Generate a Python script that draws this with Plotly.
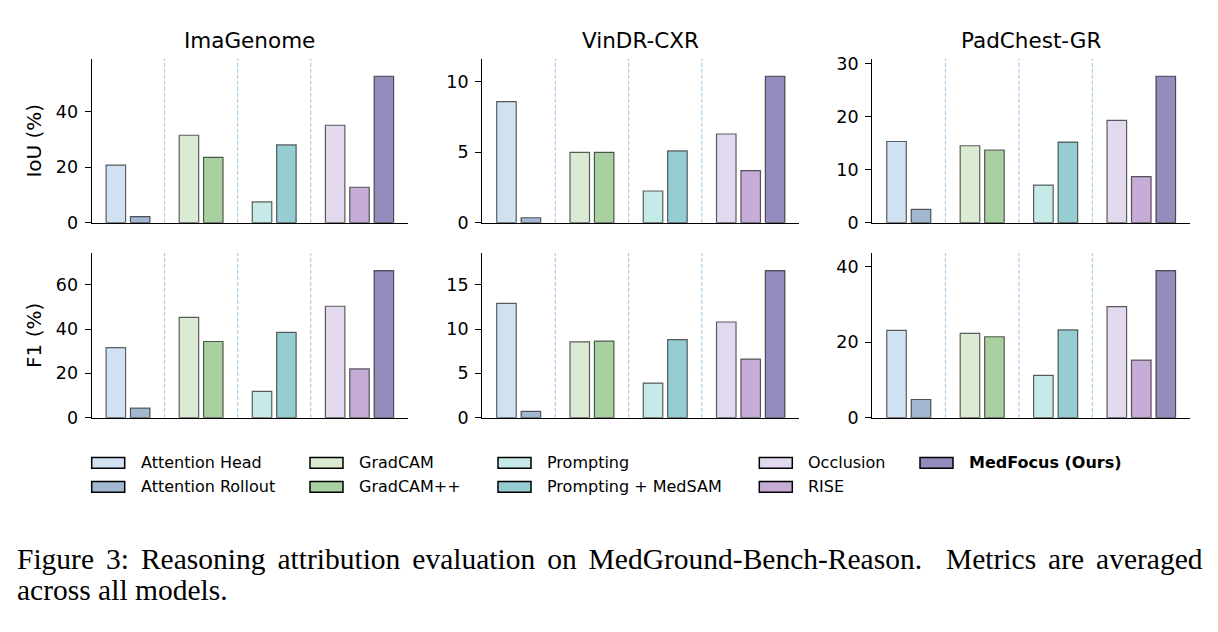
import plotly.graph_objects as go

# ---------------- data ----------------
methods = ["Attention Head", "Attention Rollout", "GradCAM", "GradCAM++", "Prompting",
           "Prompting + MedSAM", "Occlusion", "RISE", "MedFocus (Ours)"]
positions = [0, 1, 3, 4, 6, 7, 9, 10, 11]
separators = [2, 5, 8]
colors = ["#D0E1F2", "#A1B8D0", "#DAEAD3", "#A9D0A1", "#C5EAE7",
          "#96CDD3", "#E2D9EE", "#C6ADD8", "#958BBC"]
datasets = ["ImaGenome", "VinDR-CXR", "PadChest-GR"]
metrics = ["IoU (%)", "F1 (%)"]

iou_imagenome = [20.8, 2.2, 31.6, 23.6, 7.5, 28.1, 35.2, 12.8, 52.9]
iou_vindr = [8.6, 0.35, 5.0, 5.0, 2.25, 5.1, 6.3, 3.7, 10.4]
iou_padchest = [15.3, 2.5, 14.5, 13.7, 7.1, 15.2, 19.3, 8.7, 27.6]
f1_imagenome = [31.6, 4.3, 45.3, 34.4, 11.9, 38.5, 50.3, 22.0, 66.4]
f1_vindr = [12.9, 0.7, 8.56, 8.63, 3.9, 8.8, 10.8, 6.6, 16.6]
f1_padchest = [23.1, 4.8, 22.3, 21.4, 11.2, 23.2, 29.4, 15.2, 38.9]

panel_values = [iou_imagenome, iou_vindr, iou_padchest,
                f1_imagenome, f1_vindr, f1_padchest]
panel_dticks = [20, 5, 10, 20, 5, 20]

caption_line1 = "Figure 3: Reasoning attribution evaluation on MedGround-Bench-Reason.&nbsp; Metrics are averaged"
caption_line2 = "across all models."

# ---------------- layout geometry ----------------
W, H = 1218, 632
col_px = [(91.7, 408.0), (482.3, 799.3), (872.3, 1190.0)]
row_px = [(55.0, 223.0), (254.0, 422.7)]

FONT = "DejaVu Sans"
fig = go.Figure()
layout = dict(
    width=W, height=H, margin=dict(l=0, r=0, t=0, b=0),
    paper_bgcolor="white", plot_bgcolor="white", showlegend=False,
    font=dict(family=FONT, color="black"),
)
shapes = []
annotations = []

for i, vals in enumerate(panel_values):
    r, c = divmod(i, 3)
    n = i + 1
    sfx = "" if n == 1 else str(n)
    xa, ya = "xaxis" + sfx, "yaxis" + sfx
    xd = [col_px[c][0] / W, col_px[c][1] / W]
    yd = [1 - row_px[r][1] / H, 1 - row_px[r][0] / H]
    ymax = max(vals) * 1.12
    layout[xa] = dict(domain=xd, anchor="y" + sfx, range=[-0.99, 11.99],
                      showline=True, linecolor="black", linewidth=1.3,
                      showticklabels=False, ticks="", showgrid=False, zeroline=False)
    layout[ya] = dict(domain=yd, anchor="x" + sfx, range=[0, ymax], dtick=panel_dticks[i],
                      tick0=0, showline=True, linecolor="black", linewidth=1.3,
                      ticks="outside", ticklen=6, tickwidth=1.3, tickcolor="black",
                      tickfont=dict(size=17.5, family=FONT, color="black"),
                      showgrid=False, zeroline=False, ticklabelstandoff=3)
    if c == 0:
        layout[ya]["title"] = dict(text=metrics[r], font=dict(size=20, family=FONT), standoff=8)
    fig.add_trace(go.Bar(
        x=positions, y=vals, width=0.8,
        marker=dict(color=colors, line=dict(color="rgba(0,0,0,0.62)", width=1.2)),
        xaxis="x" + sfx, yaxis="y" + sfx, hovertext=methods, showlegend=False,
    ))
    for s in separators:
        shapes.append(dict(type="line", xref="x" + sfx, yref="y" + sfx + " domain",
                           x0=s, x1=s, y0=0, y1=1, layer="below",
                           line=dict(color="#A9CDE9", width=1.2, dash="4px,2px")))
    if r == 0:
        annotations.append(dict(text=datasets[c], xref="paper", yref="paper",
                                x=(col_px[c][0] + col_px[c][1]) / 2 / W, y=1 - 36 / H,
                                xanchor="center", yanchor="middle", showarrow=False,
                                font=dict(size=21.5, family=FONT, color="black")))

# ---------------- legend (5 columns x 2 rows) ----------------
legend_cols = [91.7, 310.0, 498.0, 759.3, 920.0]
legend_rows = [469.0, 493.5]
for k, name in enumerate(methods):
    col, row = (k // 2, k % 2) if k < 8 else (4, 0)
    x0 = legend_cols[col]
    yc = legend_rows[row]
    shapes.append(dict(type="rect", xref="paper", yref="paper",
                       x0=x0 / W, x1=(x0 + 33) / W, y0=1 - (yc + 5.5) / H, y1=1 - (yc - 5.5) / H,
                       fillcolor=colors[k], line=dict(color="black", width=1.5)))
    label = "<b>" + name + "</b>" if k == 8 else name
    annotations.append(dict(text=label, xref="paper", yref="paper",
                            x=(x0 + 47) / W, y=1 - yc / H, xanchor="left", yanchor="middle",
                            showarrow=False, font=dict(size=16, family=FONT, color="black")))

# ---------------- caption ----------------
SERIF = "Liberation Serif"
annotations.append(dict(text='<span style="word-spacing:4.6px">' + caption_line1 + "</span>",
                        xref="paper", yref="paper", x=15 / W, y=1 - 567 / H,
                        xanchor="left", yanchor="middle", showarrow=False,
                        font=dict(size=29.5, family=SERIF, color="black")))
annotations.append(dict(text=caption_line2, xref="paper", yref="paper", x=15 / W, y=1 - 599 / H,
                        xanchor="left", yanchor="middle", showarrow=False,
                        font=dict(size=29.5, family=SERIF, color="black")))

layout["shapes"] = shapes
layout["annotations"] = annotations
fig.update_layout(**layout)
fig.write_html("out.html")
